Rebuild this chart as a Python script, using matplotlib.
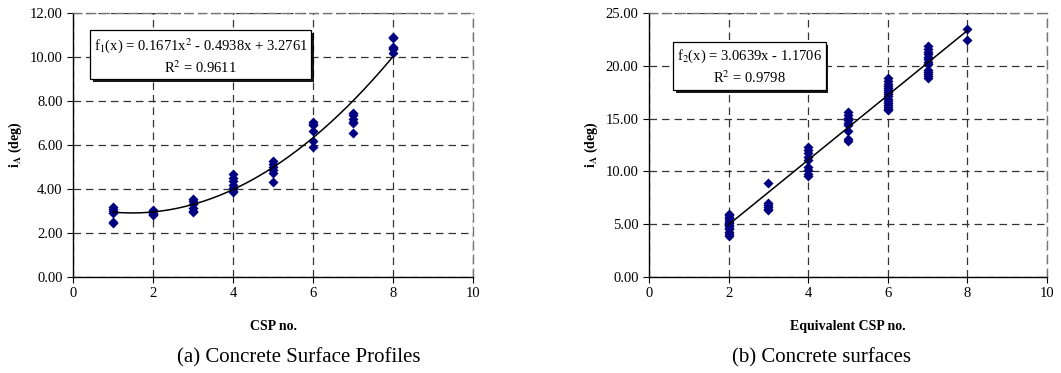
import numpy as np
import matplotlib
matplotlib.use('Agg')
import matplotlib.pyplot as plt
from matplotlib.ticker import FormatStrFormatter, MultipleLocator
import matplotlib.patheffects as pe

plt.rcParams['font.family'] = ['Liberation Serif', 'DejaVu Serif']
plt.rcParams['mathtext.fontset'] = 'stix'

# (a) Concrete Surface Profiles: CSP no. vs i_A
csp_x = [1, 1, 1, 1, 1, 1,
         2, 2, 2, 2, 2,
         3, 3, 3, 3, 3, 3,
         4, 4, 4, 4, 4, 4, 4,
         5, 5, 5, 5, 5, 5,
         6, 6, 6, 6, 6, 6,
         7, 7, 7, 7, 7, 7,
         8, 8, 8, 8, 8, 8]
csp_y = [3.20, 3.10, 3.00, 2.90, 2.50, 2.45,
         3.05, 3.00, 2.90, 2.85, 2.80,
         3.55, 3.45, 3.30, 3.15, 3.00, 2.95,
         4.68, 4.50, 4.35, 4.20, 4.05, 3.92, 3.85,
         5.28, 5.15, 5.00, 4.85, 4.75, 4.32,
         7.05, 6.95, 6.90, 6.62, 6.17, 5.90,
         7.45, 7.35, 7.20, 7.05, 7.00, 6.55,
         10.90, 10.85, 10.45, 10.40, 10.35, 10.18]
fit_a = [0.1671, -0.4938, 3.2761]

# (b) Concrete surfaces: equivalent CSP no. vs i_A
eq_x = [2] * 14 + [3] * 6 + [4] * 9 + [5] * 9 + [6] * 16 + [7] * 13 + [8] * 2
eq_y = [6.0, 5.85, 5.7, 5.55, 5.4, 5.25, 5.1, 4.95, 4.8, 4.65, 4.5, 4.3, 4.1, 3.9,
        8.90, 7.00, 6.85, 6.65, 6.45, 6.30,
        12.35, 12.00, 11.70, 11.35, 11.05, 10.40, 10.10, 9.80, 9.55,
        15.65, 15.35, 15.10, 14.85, 14.60, 14.40, 13.85, 13.10, 12.90,
        18.80, 18.55, 18.30, 18.10, 17.90, 17.70, 17.50, 17.30, 17.10, 16.90, 16.70,
        16.50, 16.30, 16.10, 15.95, 15.80,
        21.85, 21.60, 21.35, 21.10, 20.85, 20.60, 20.40, 20.20, 19.60, 19.40, 19.20,
        19.00, 18.80,
        23.45, 22.45]
fit_b = [3.0639, -1.1706]

fig = plt.figure(figsize=(10.61, 3.73), dpi=100)
ax1 = fig.add_axes([73 / 1061, 1 - 277 / 373, 400 / 1061, 264 / 373])
ax2 = fig.add_axes([649 / 1061, 1 - 277 / 373, 398 / 1061, 264 / 373])


def style(ax, ymax, ystep):
    ax.set_xlim(0, 10)
    ax.set_ylim(0, ymax)
    ax.xaxis.set_major_locator(MultipleLocator(2))
    ax.yaxis.set_major_locator(MultipleLocator(ystep))
    ax.yaxis.set_major_formatter(FormatStrFormatter('%.2f'))
    ax.grid(True, color='#333333', linestyle=(0, (6, 4)), linewidth=0.9)
    ax.set_axisbelow(True)
    for s in ['top', 'right']:
        ax.spines[s].set_color('#777777')
        ax.spines[s].set_linestyle((0, (6, 4)))
        ax.spines[s].set_linewidth(1.0)
    for s in ['left', 'bottom']:
        ax.spines[s].set_color('black')
        ax.spines[s].set_linewidth(1.0)
    ax.tick_params(direction='out', length=4, width=0.8, labelsize=10.5,
                   top=False, right=False)


def eq_box(ax, x, y, txt):
    t = ax.text(x, y, txt, transform=ax.transAxes, ha='center', va='center',
                fontsize=10.5, linespacing=1.3, zorder=6,
                bbox=dict(boxstyle='square,pad=0.25', fc='white', ec='black', lw=0.9))
    t.get_bbox_patch().set_path_effects(
        [pe.SimplePatchShadow(offset=(2, -2), shadow_rgbFace='black', alpha=0.9),
         pe.Normal()])


# left panel
style(ax1, 12, 2)
ax1.scatter(csp_x, csp_y, marker='D', s=26, color='#000080', zorder=3, linewidths=0)
xa = np.linspace(1, 8, 200)
ax1.plot(xa, np.polyval(fit_a, xa), color='black', lw=1.1, zorder=4)
ax1.set_xlabel('CSP no.', fontweight='bold', fontsize=10, labelpad=14)
ax1.set_ylabel(r'$\mathbf{i_A}$ (deg)', fontweight='bold', fontsize=10, labelpad=4)
eq_box(ax1, 0.319, 0.837,
       'f$_1$(x) = 0.1671x$^2$ - 0.4938x + 3.2761\nR$^2$ = 0.9611')

# right panel
style(ax2, 25, 5)
ax2.scatter(eq_x, eq_y, marker='D', s=26, color='#000080', zorder=3, linewidths=0)
xb = np.linspace(2, 8, 50)
ax2.plot(xb, np.polyval(fit_b, xb), color='black', lw=1.1, zorder=4)
ax2.set_xlabel('Equivalent CSP no.', fontweight='bold', fontsize=10, labelpad=14)
ax2.set_ylabel(r'$\mathbf{i_A}$ (deg)', fontweight='bold', fontsize=10, labelpad=4)
eq_box(ax2, 0.2525, 0.795, 'f$_2$(x) = 3.0639x - 1.1706\nR$^2$ = 0.9798')

fig.text(299 / 1061, 1 - 358 / 373, '(a) Concrete Surface Profiles',
         ha='center', va='center', fontsize=15)
fig.text(821 / 1061, 1 - 358 / 373, '(b) Concrete surfaces',
         ha='center', va='center', fontsize=15)

fig.savefig('out.png', dpi=100)
